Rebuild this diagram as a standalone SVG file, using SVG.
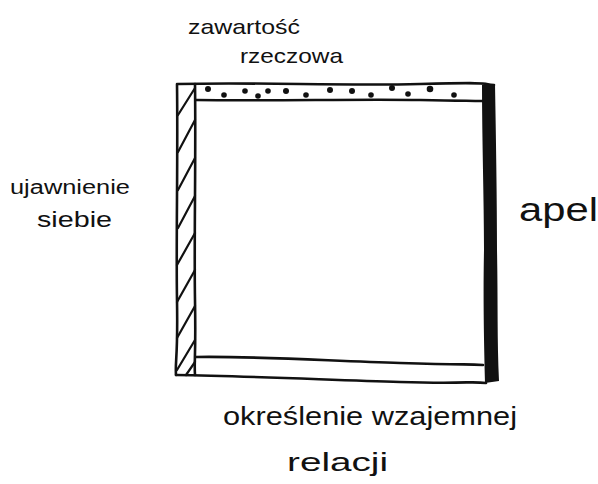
<svg xmlns="http://www.w3.org/2000/svg" width="598" height="484" viewBox="0 0 598 484">
<style>
.ln{fill:none;stroke:#111;stroke-width:2.6;stroke-linecap:round;stroke-linejoin:round}
.ht{fill:none;stroke:#111;stroke-width:2.2;stroke-linecap:round}
.dot{fill:#111}
.lbl{font-family:"Liberation Sans","DejaVu Sans",sans-serif;fill:#111}
</style>
<rect width="598" height="484" fill="#fff"/>
<g id="square">
  <path class="ln" d="M178,84 C260,82 340,86 420,84 S480,84 494,85"/>
  <path class="ln" d="M177,84 C178,160 176,240 177,300 S175,360 176,375"/>
  <path class="ln" d="M176,375 C250,376 330,380 400,382 S470,381 486,383"/>
</g>
<g id="zawartosc-band">
  <path class="ln" d="M196,100 C270,101 360,99 420,100 S470,101 483,101"/>
  <circle class="dot" cx="208" cy="89" r="3"/>
  <circle class="dot" cx="224" cy="95" r="2.8"/>
  <circle class="dot" cx="245" cy="91" r="2.8"/>
  <circle class="dot" cx="258" cy="96" r="2.8"/>
  <circle class="dot" cx="268" cy="91" r="2.8"/>
  <circle class="dot" cx="286" cy="91" r="3"/>
  <circle class="dot" cx="306" cy="95" r="2.8"/>
  <circle class="dot" cx="330" cy="90" r="3"/>
  <circle class="dot" cx="352" cy="91" r="3"/>
  <circle class="dot" cx="371" cy="95" r="2.8"/>
  <circle class="dot" cx="392" cy="88" r="3"/>
  <circle class="dot" cx="408" cy="94" r="2.8"/>
  <circle class="dot" cx="430" cy="89" r="3.3"/>
  <circle class="dot" cx="454" cy="95" r="2.8"/>
</g>
<g id="ujawnienie-band">
  <path class="ln" d="M195,84 C196,160 194,240 195,300 S194,360 195,375"/>
  <path class="ht" d="M178,115 L195,88"/>
  <path class="ht" d="M178,152 L195,120"/>
  <path class="ht" d="M178,190 L195,158"/>
  <path class="ht" d="M178,228 L195,196"/>
  <path class="ht" d="M177,265 L195,233"/>
  <path class="ht" d="M177,302 L195,270"/>
  <path class="ht" d="M177,338 L195,306"/>
  <path class="ht" d="M177,370 L195,340"/>
  <path class="ht" d="M186,375 L195,362"/>
</g>
<g id="apel-band">
  <path fill="#111" d="M482,85 L495,84 C496,140 497,200 497,250 C498,300 497,340 499,381 L485,383 C484,340 483,300 484,250 C484,200 482,140 482,85 Z"/>
</g>
<g id="relacja-band">
  <path class="ln" d="M196,357 C260,356 330,361 400,363 S465,364 483,365"/>
</g>
<g id="label-zawartosc">
  <text class="lbl" x="188" y="34" font-size="21" textLength="112" lengthAdjust="spacingAndGlyphs">zawartość</text>
  <text class="lbl" x="240" y="63" font-size="21" textLength="103" lengthAdjust="spacingAndGlyphs">rzeczowa</text>
</g>
<g id="label-ujawnienie">
  <text class="lbl" x="10" y="194" font-size="20" textLength="120" lengthAdjust="spacingAndGlyphs">ujawnienie</text>
  <text class="lbl" x="37" y="227" font-size="22" textLength="75" lengthAdjust="spacingAndGlyphs">siebie</text>
</g>
<g id="label-apel">
  <text class="lbl" x="519" y="221" font-size="34" textLength="79" lengthAdjust="spacingAndGlyphs">apel</text>
</g>
<g id="label-relacja">
  <text class="lbl" x="223" y="425" font-size="25" textLength="294" lengthAdjust="spacingAndGlyphs">określenie wzajemnej</text>
  <text class="lbl" x="287" y="471" font-size="25" textLength="101" lengthAdjust="spacingAndGlyphs">relacji</text>
</g>
</svg>
